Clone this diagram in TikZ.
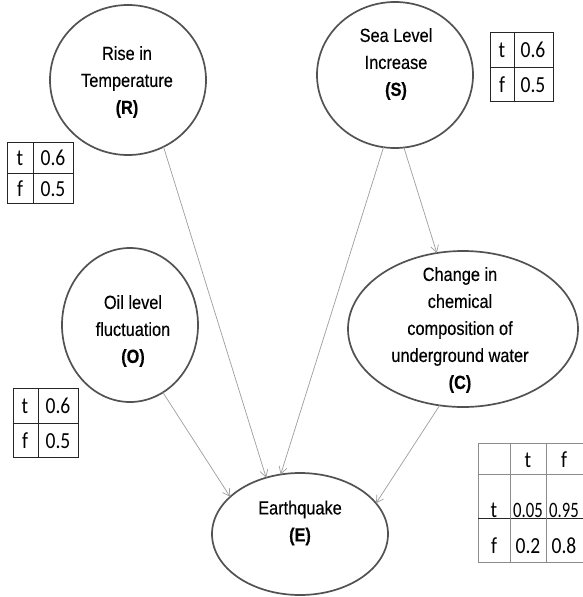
\documentclass[tikz,border=0pt]{standalone}
\usepackage{fontspec}
\usetikzlibrary{shapes.geometric,arrows.meta}
\newfontfamily\lblfont[FakeStretch=0.86,FakeBold=0.3]{Liberation Sans}
\newfontfamily\tabfont[FakeStretch=0.85]{Carlito}
\newfontfamily\tabnarrow[FakeStretch=0.76]{Carlito}
\tikzset{
  ell/.style={ellipse, draw=black!68, line width=1.7pt, inner sep=0pt, outer sep=0pt},
  lbl/.style={align=center, inner sep=0pt, font=\lblfont\fontsize{19}{27}\selectfont},
  arr/.style={draw=black!38, line width=0.7pt, -{Straight Barb[length=7pt,width=8pt]}},
  cell/.style={inner sep=0pt, font=\tabfont\fontsize{23}{26}\selectfont},
  ncell/.style={inner sep=0pt, font=\tabnarrow\fontsize{22}{26}\selectfont},
  tline/.style={draw=black!85, line width=0.8pt},
  gline/.style={draw=black!45, line width=1pt}
}
\begin{document}
\begin{tikzpicture}[x=1pt,y=-1pt]
\useasboundingbox[fill=white] (0,0) rectangle (583,597);
% ellipses
\node[ell, minimum width=156pt, minimum height=150pt] (R) at (128,80) {};
\node[ell, minimum width=156pt, minimum height=146pt] (S) at (395,75) {};
\node[ell, minimum width=136pt, minimum height=154pt] (O) at (130,325) {};
\node[ell, minimum width=230pt, minimum height=156pt] (C) at (463,329) {};
\node[ell, minimum width=176pt, minimum height=122pt] (E) at (300,534) {};
% labels
\node[lbl] (Rt) at (127,82) {Rise in\\Temperature\\\textbf{(R)}};
\node[lbl] (St) at (396,64) {Sea Level\\Increase\\\textbf{(S)}};
\node[lbl] (Ot) at (133,331) {Oil level\\fluctuation\\\textbf{(O)}};
\node[lbl] (Ct) at (460,330) {Change in\\chemical\\composition of\\underground water\\\textbf{(C)}};
\node[lbl] (Et) at (300,523) {Earthquake\\\textbf{(E)}};
% arrows
\draw[arr] (R.-62) -- (E.121);
\draw[arr] (S.-99) -- (E.108);
\draw[arr] (S.-83) -- (C.109);
\draw[arr] (O.-64) -- (E.152);
\draw[arr] (C.-107) -- (E.22);
% table R
\draw[tline] (7,142) rectangle (73,203);
\draw[tline] (7,173) -- (73,173);
\draw[tline] (33,142) -- (33,203);
\node[cell] (r1) at (20,158) {t};
\node[cell] (r2) at (53,158) {0.6};
\node[cell] (r3) at (20,189) {f};
\node[cell] (r4) at (53,189) {0.5};
% table S
\draw[tline] (490,32) rectangle (553,101);
\draw[tline] (490,67) -- (553,67);
\draw[tline] (514,32) -- (514,101);
\node[cell] (s1) at (502,50) {t};
\node[cell] (s2) at (533,50) {0.6};
\node[cell] (s3) at (502,85) {f};
\node[cell] (s4) at (533,85) {0.5};
% table O
\draw[tline] (13,388) rectangle (78,457);
\draw[tline] (13,423) -- (78,423);
\draw[tline] (38,388) -- (38,457);
\node[cell] (o1) at (25,406) {t};
\node[cell] (o2) at (58,406) {0.6};
\node[cell] (o3) at (25,441) {f};
\node[cell] (o4) at (58,441) {0.5};
% table E
\draw[gline] (583,443) -- (478,443) -- (478,562) -- (583,562);
\draw[gline] (478,474) -- (583,474);
\draw[tline] (478,518) -- (583,518);
\draw[gline] (510,443) -- (510,562);
\draw[gline] (546,443) -- (546,562);
\node[cell] (e1) at (528,460) {t};
\node[cell] (e2) at (564,460) {f};
\node[cell] (e3) at (494,510) {t};
\node[ncell] (e4) at (528,510) {0.05};
\node[ncell] (e5) at (564,510) {0.95};
\node[cell] (e6) at (494,546) {f};
\node[cell] (e7) at (528,546) {0.2};
\node[cell] (e8) at (564,546) {0.8};
\end{tikzpicture}
\end{document}
